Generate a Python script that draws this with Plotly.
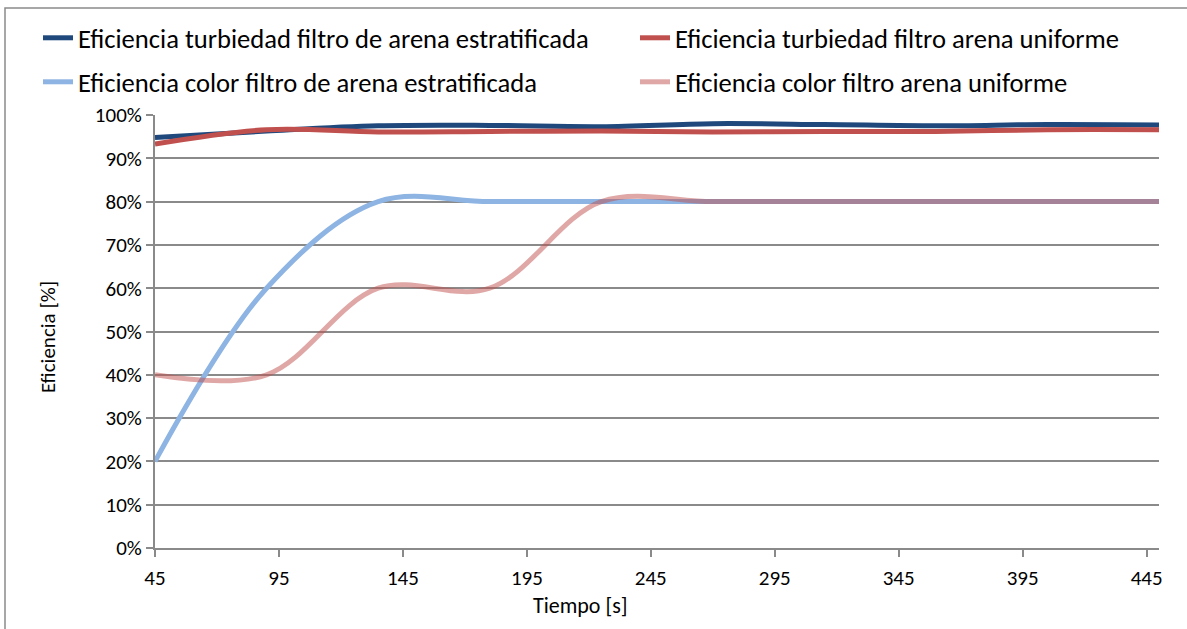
import plotly.graph_objects as go

# Sampling times [s]
tiempo = [45, 90, 135, 180, 225, 270, 315, 360, 405, 450]

# Removal efficiency [%]
turb_estratificada = [94.8, 96.3, 97.5, 97.6, 97.3, 98.0, 97.8, 97.5, 97.8, 97.7]
turb_uniforme = [93.3, 96.6, 96.1, 96.2, 96.3, 96.1, 96.2, 96.2, 96.6, 96.6]
color_estratificada = [20, 60, 80, 80, 80, 80, 80, 80, 80, 80]
color_uniforme = [40, 40, 60, 60, 80, 80, 80, 80, 80, 80]

x_ticks = [45, 95, 145, 195, 245, 295, 345, 395, 445]
y_ticks = list(range(0, 101, 10))

FONT = "Carlito, Calibri, Lato, sans-serif"
GRID = "#8a8a8a"

# Plot-area placement in pixels
W, H = 1187, 629
L, R, T, B = 155, 1159, 115, 548

# name, values, colour, legend id, legend position (left px, row centre px)
series = [
    ("Eficiencia turbiedad filtro de arena estratificada", turb_estratificada, "#1F497D", "legend", (38, 38)),
    ("Eficiencia turbiedad filtro arena uniforme", turb_uniforme, "#C0504D", "legend2", (635, 38)),
    ("Eficiencia color filtro de arena estratificada", color_estratificada, "#8DB4E2", "legend3", (38, 82)),
    ("Eficiencia color filtro arena uniforme", color_uniforme, "rgba(192,80,77,0.5)", "legend4", (635, 82)),
]

fig = go.Figure()
for name, vals, color, leg, _ in series:
    fig.add_trace(go.Scatter(
        x=tiempo, y=vals, name=name, mode="lines",
        line=dict(color=color, width=5, shape="spline", smoothing=1.0),
        legend=leg, hoverinfo="x+y+name",
    ))

def px_to_paper_x(px):
    return (px - L) / (R - L)

def px_to_paper_y(py):
    return (B - py) / (B - T)

legends = {}
for _, _, _, leg, (lx, ly) in series:
    legends[leg] = dict(
        orientation="h", xref="container", yref="container",
        x=lx / W, y=1 - ly / H, xanchor="left", yanchor="middle",
        font=dict(family=FONT, size=26.6, color="#000000"),
        bgcolor="rgba(0,0,0,0)", borderwidth=0,
    )

fig.update_layout(
    width=W, height=H,
    margin=dict(l=L, r=W - R, t=T, b=H - B, autoexpand=False),
    paper_bgcolor="white", plot_bgcolor="white",
    font=dict(family=FONT, size=21, color="#000000"),
    showlegend=True,
    **legends,
    xaxis=dict(
        range=[45, 450], tickmode="array", tickvals=x_ticks,
        ticktext=[str(v) for v in x_ticks],
        showgrid=False, zeroline=False,
        showline=True, linecolor=GRID, linewidth=2,
        ticks="outside", ticklen=7, tickwidth=2, tickcolor=GRID,
        ticklabelstandoff=3,
        tickfont=dict(family=FONT, size=21),
    ),
    yaxis=dict(
        range=[0, 100], tickmode="array", tickvals=y_ticks,
        ticktext=[f"{v}%" for v in y_ticks],
        showgrid=True, gridcolor=GRID, gridwidth=2, zeroline=False,
        showline=True, linecolor=GRID, linewidth=2,
        ticks="outside", ticklen=7, tickwidth=2, tickcolor=GRID,
        tickfont=dict(family=FONT, size=21),
    ),
    shapes=[
        dict(type="rect", xref="paper", yref="paper",
             x0=px_to_paper_x(5), x1=px_to_paper_x(W + 10),
             y0=px_to_paper_y(H + 10), y1=px_to_paper_y(8),
             line=dict(color=GRID, width=1.5), fillcolor="rgba(0,0,0,0)", layer="below"),
    ],
    annotations=[
        dict(text="Tiempo [s]", xref="paper", yref="paper",
             x=px_to_paper_x(580), y=px_to_paper_y(605),
             xanchor="center", yanchor="middle", showarrow=False,
             font=dict(family=FONT, size=22, color="#000000")),
        dict(text="Eficiencia [%]", xref="paper", yref="paper",
             x=px_to_paper_x(48), y=px_to_paper_y(337), textangle=-90,
             xanchor="center", yanchor="middle", showarrow=False,
             font=dict(family=FONT, size=21, color="#000000")),
    ],
)

fig.write_html("out.html")
